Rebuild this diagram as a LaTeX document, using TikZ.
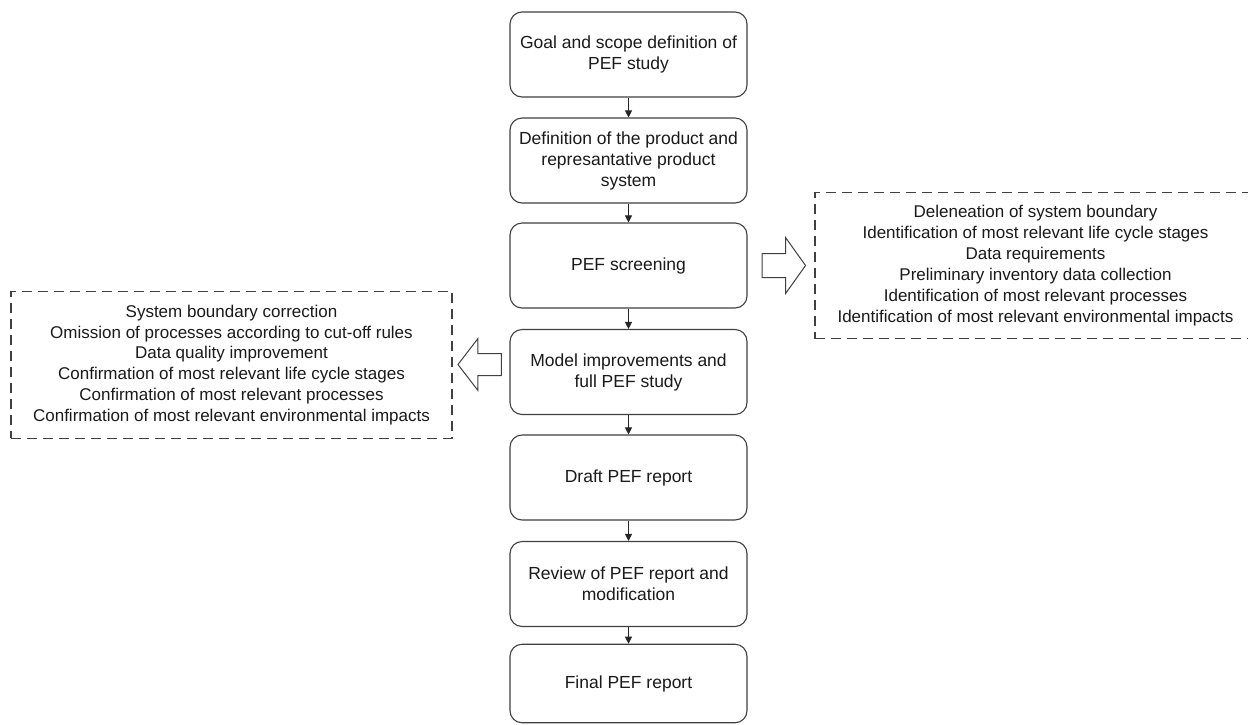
\documentclass[tikz,border=0pt]{standalone}
\usepackage{fontspec}
\setmainfont{Liberation Sans}
\usetikzlibrary{arrows.meta,calc}
\definecolor{linegray}{HTML}{404040}
\definecolor{txt}{HTML}{1A1A1A}
\begin{document}
\begin{tikzpicture}[x=1pt,y=-1pt,
  stepbox/.style={draw=linegray, line width=1.1pt, rounded corners=12pt,
    minimum width=237pt, minimum height=85pt, align=center, inner sep=0pt,
    font=\fontsize{17.5}{21}\selectfont, text=txt},
  notebox/.style={draw=linegray, line width=1.1pt, dash pattern=on 10pt off 6pt,
    minimum width=441pt, minimum height=146.5pt, align=center, inner sep=0pt,
    font=\fontsize{17}{20.9}\selectfont, text=txt},
  flow/.style={draw=black!85, line width=0.9pt, -{Triangle[length=7pt,width=7pt]}},
  blockarrow/.style={draw=linegray, line width=1pt, fill=white, line join=miter}]
\clip (0,0) rectangle (1248,724);
\fill[white] (0,0) rectangle (1248,724);

\node[stepbox] (b1) at (628.5,54.5) {Goal and scope definition of\\PEF study};
\node[stepbox] (b2) at (628.5,160.5) {Definition of the product and\\represantative product\\system};
\node[stepbox] (b3) at (628.5,265.5) {PEF screening};
\node[stepbox] (b4) at (628.5,372) {Model improvements and\\full PEF study};
\node[stepbox] (b5) at (628.5,477.5) {Draft PEF report};
\node[stepbox] (b6) at (628.5,584) {Review of PEF report and\\modification};
\node[stepbox, minimum height=78.5pt] (b7) at (628.5,683.5) {Final PEF report};

\draw[flow] (b1) -- (b2);
\draw[flow] (b2) -- (b3);
\draw[flow] (b3) -- (b4);
\draw[flow] (b4) -- (b5);
\draw[flow] (b5) -- (b6);
\draw[flow] (b6) -- (b7);

\node[notebox] (left) at (231.5,365) {System boundary correction\\Omission of processes according to cut-off rules\\Data quality improvement\\Confirmation of most relevant life cycle stages\\Confirmation of most relevant processes\\Confirmation of most relevant environmental impacts};
\node[notebox] (right) at (1035.5,265.5) {Deleneation of system boundary\\Identification of most relevant life cycle stages\\Data requirements\\Preliminary inventory data collection\\Identification of most relevant processes\\Identification of most relevant environmental impacts};

% block arrow from PEF screening to the right box
\draw[blockarrow] ($(b3.east)+(14.5,-12)$) -- ++(23.5,0) -- ++(0,-16) -- ++(20,28)
  -- ++(-20,28) -- ++(0,-16) -- ++(-23.5,0) -- cycle;
% block arrow from model improvements to the left box
\draw[blockarrow] ($(b4.west)+(-8,-18.5)$) -- ++(-23.5,0) -- ++(0,-15) -- ++(-20,26)
  -- ++(20,26) -- ++(0,-15) -- ++(23.5,0) -- cycle;
\end{tikzpicture}
\end{document}
